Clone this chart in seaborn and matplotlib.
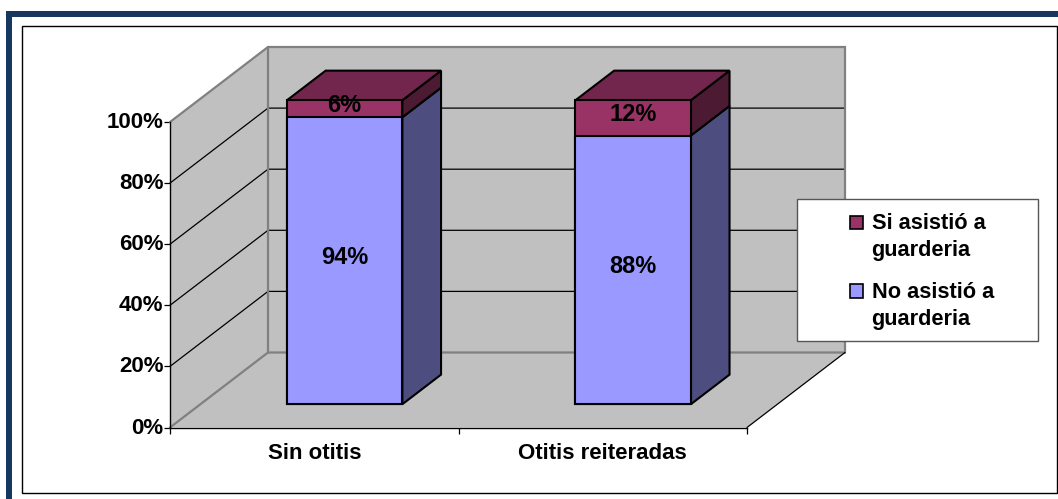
import matplotlib
matplotlib.use("Agg")
import matplotlib.pyplot as plt
import matplotlib.transforms as mtrans
from matplotlib.patches import Polygon, Rectangle, Patch
from matplotlib.legend_handler import HandlerPatch
import numpy as np
import pandas as pd
import seaborn as sns

# ---- data ----
categories = ["Sin otitis", "Otitis reiteradas"]
no_asistio = [94.4, 88.4]
si_asistio = [5.6, 11.6]
series_labels = ["Si asistió a\nguarderia", "No asistió a\nguarderia"]
y_ticks = [0, 20, 40, 60, 80, 100]
data_labels_no = ["94%", "88%"]
data_labels_si = ["6%", "12%"]

# ---- colours ----
C_NO, C_NO_SIDE = "#9999FF", "#4D4D80"
C_SI, C_SI_SIDE, C_SI_TOP = "#993366", "#4D1A33", "#73264D"
C_WALL, C_EDGE, C_NAVY = "#C0C0C0", "#808080", "#17375E"

sns.set_theme(style="white")
plt.rcParams["font.family"] = ["Liberation Sans", "DejaVu Sans"]
plt.rcParams["font.weight"] = "bold"
FS = 16
FS_DATA = 17
FS_LEG = 15.7

W, H = 1058, 499
fig = plt.figure(figsize=(W / 100, H / 100), dpi=100, facecolor="white")
# front plane of the chart box
L, R, B, T = 170, 747, 427.5, 122
ax = fig.add_axes([L / W, 1 - B / H, (R - L) / W, (B - T) / H])
ax.patch.set_visible(False)

# oblique depth: one unit of depth in data units
DX = 98 / ((R - L) / 2)
DY = 75 / ((B - T) / 100)
K = 0.995         # foreshortening of the bars


def proj(x, y, d, k=1.0):
    return (x + d * DX, y * k + d * DY)


def poly(points, fc, ec="none", lw=0, z=1):
    ax.add_patch(Polygon(points, closed=True, fc=fc, ec=ec, lw=lw, zorder=z,
                         clip_on=False, joinstyle="miter"))


XL, XR = -0.5, 1.5
# walls and floor
poly([proj(XL, 0, 0), proj(XL, 100, 0), proj(XL, 100, 1), proj(XL, 0, 1)], C_WALL, z=1)
poly([proj(XL, 0, 1), proj(XL, 100, 1), proj(XR, 100, 1), proj(XR, 0, 1)], C_WALL, z=1)
poly([proj(XL, 0, 0), proj(XR, 0, 0), proj(XR, 0, 1), proj(XL, 0, 1)], C_WALL, z=1)

# gridlines
for v in y_ticks[1:-1]:
    xs, ys = zip(proj(XL, v, 0), proj(XL, v, 1), proj(XR, v, 1))
    ax.plot(xs, ys, color="black", lw=0.9, zorder=2, clip_on=False)

# wall edges
for pts in ([proj(XL, 100, 0), proj(XL, 100, 1), proj(XR, 100, 1), proj(XR, 0, 1)],
            [proj(XL, 0, 0), proj(XL, 0, 1), proj(XR, 0, 1)],
            [proj(XL, 0, 1), proj(XL, 100, 1)]):
    xs, ys = zip(*pts)
    ax.plot(xs, ys, color=C_EDGE, lw=1.6, zorder=3, clip_on=False, solid_joinstyle="miter")
xs, ys = zip(proj(XR, 0, 0), proj(XR, 0, 1))
ax.plot(xs, ys, color="black", lw=0.9, zorder=3, clip_on=False)

# bars (front faces) through seaborn, pushed into the depth of the floor
D0, D1 = 0.31, 0.705
BW = 0.4
no = np.array(no_asistio, float)
si = np.array(si_asistio, float)
total = no + si
df = pd.DataFrame({"cat": categories, "no": no, "total": total})
n0 = len(ax.patches)
sns.barplot(data=df, x="cat", y="total", color=C_SI, saturation=1, width=BW, ax=ax)
sns.barplot(data=df, x="cat", y="no", color=C_NO, saturation=1, width=BW, ax=ax)
front = mtrans.Affine2D().scale(1, K).translate(D0 * DX, D0 * DY) + ax.transData
for p in ax.patches[n0:]:
    p.set_transform(front)
    p.set(edgecolor="black", linewidth=1.5, zorder=6, clip_on=False)

# bar side and top faces
for i in range(len(categories)):
    x0, x1 = i - BW / 2, i + BW / 2
    t, n = total[i], no[i]
    poly([proj(x1, 0, D0, K), proj(x1, n, D0, K), proj(x1, n, D1, K), proj(x1, 0, D1, K)],
         C_NO_SIDE, "black", 1.5, 5)
    poly([proj(x1, n, D0, K), proj(x1, t, D0, K), proj(x1, t, D1, K), proj(x1, n, D1, K)],
         C_SI_SIDE, "black", 1.5, 5)
    poly([proj(x0, t, D0, K), proj(x1, t, D0, K), proj(x1, t, D1, K), proj(x0, t, D1, K)],
         C_SI_TOP, "black", 1.5, 5)
    # data labels
    for y, s in ((n / 2, data_labels_no[i]), (n + si[i] / 2, data_labels_si[i])):
        xt, yt = proj(i, y * K, D0)
        ax.text(xt, yt + 1.1, s, ha="center", va="center", fontsize=FS_DATA,
                fontweight="bold", color="black", zorder=8, clip_on=False)

# axes
ax.set_xlim(XL, XR)
ax.set_ylim(0, 100)
ax.set_xlabel("")
ax.set_ylabel("")
sns.despine(ax=ax, top=True, right=True)
for s in ("left", "bottom"):
    ax.spines[s].set(color="black", linewidth=1.0, zorder=7, visible=True)
ax.set_yticks(y_ticks)
ax.set_yticklabels([f"{v}%" for v in y_ticks], fontsize=FS, fontweight="bold", color="black")
ax.set_xticks(range(len(categories)))
ax.set_xticklabels(categories, fontsize=FS, fontweight="bold", color="black")
ax.set_xticks([-0.5, 0.5, 1.5], minor=True)
ax.tick_params(axis="y", which="major", left=True, length=4.2, width=0.9, pad=0.5, color="black")
ax.tick_params(axis="x", which="major", bottom=False, length=0, pad=11)
ax.tick_params(axis="x", which="minor", bottom=True, length=4.2, width=0.9, color="black")
nudge = mtrans.ScaledTranslation(0, 2 / 100, fig.dpi_scale_trans)
for lab in ax.get_yticklabels():
    lab.set_transform(lab.get_transform() + nudge)

# outer decoration
def fig_rect(x0, y0, x1, y1, **kw):
    fig.add_artist(Rectangle((x0 / W, 1 - y1 / H), (x1 - x0) / W, (y1 - y0) / H,
                             transform=fig.transFigure, **kw))


fig_rect(6, 11, 12, H, fc=C_NAVY, ec="none")
fig_rect(6, 11, W, 16.5, fc=C_NAVY, ec="none")
fig_rect(21.5, 25.5, 1057, 492.5, fc="none", ec="black", lw=1.0)
fig_rect(797, 199.5, 1038, 340.5, fc="white", ec="#555555", lw=1.0, zorder=4)

# legend
LS = 1.38


def swatch(legend, orig_handle, xdescent, ydescent, width, height, fontsize):
    return Rectangle((-xdescent, -ydescent + 0.5 * LS * fontsize), width, height)


handles = [Patch(fc=C_SI, ec="black", lw=1.2), Patch(fc=C_NO, ec="black", lw=1.2)]
fig.legend(handles, series_labels, loc="upper left",
           bbox_to_anchor=(836 / W, 1 - 199 / H), frameon=False,
           handlelength=0.6, handleheight=0.6, handletextpad=0.38,
           labelspacing=0.95, borderpad=0.65, borderaxespad=0,
           handler_map={Patch: HandlerPatch(patch_func=swatch)},
           prop={"weight": "bold", "size": FS_LEG, "family": "Liberation Sans"},
           labelcolor="black")
for t in fig.legends[0].get_texts():
    t.set_linespacing(LS)

fig.savefig("out.png", dpi=100)
